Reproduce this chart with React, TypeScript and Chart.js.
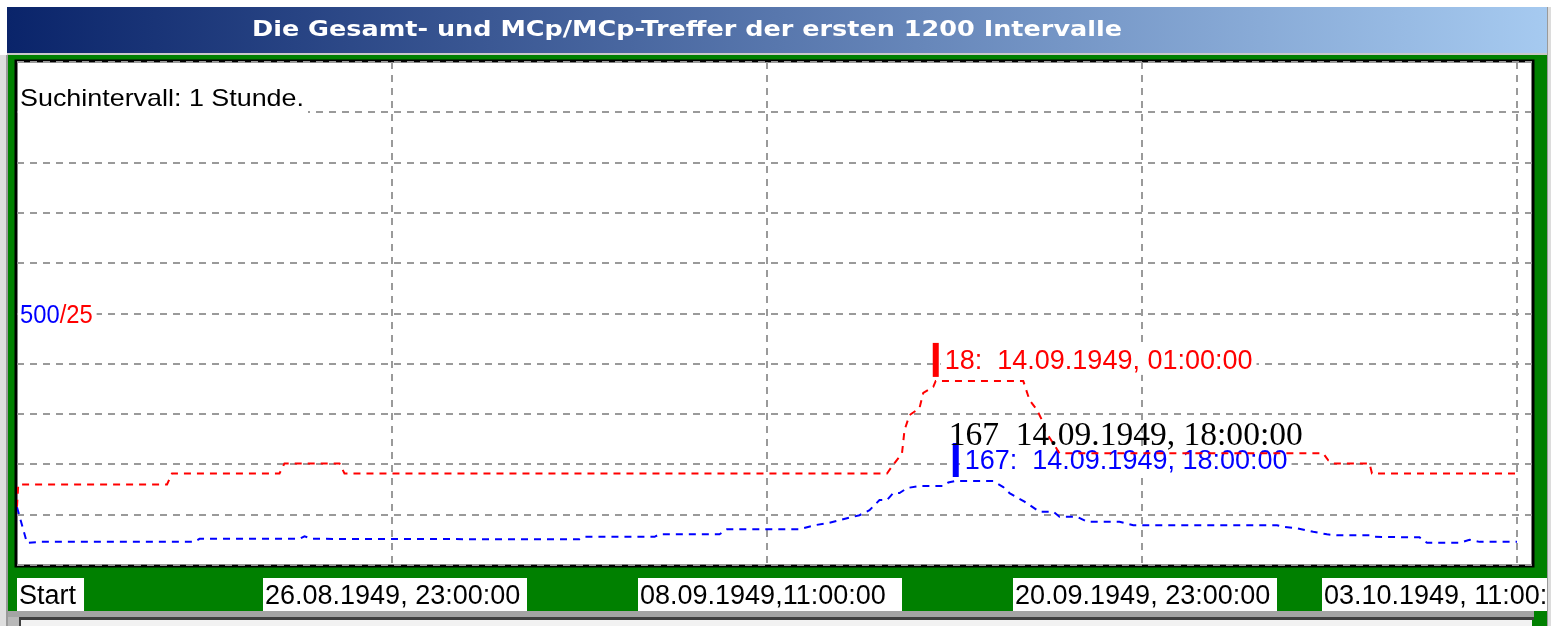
import React, { useEffect, useRef } from "react";
import { Chart, registerables } from "chart.js";

Chart.register(...registerables);

// ---------- texts ----------
const titleText = "Die Gesamt- und MCp/MCp-Treffer der ersten 1200 Intervalle";
const infoText = "Suchintervall: 1 Stunde.";
const blueAxisLabel = "500";
const redAxisLabel = "/25";
const axisLabelValue = 500;
const redPeakLabel = "18:  14.09.1949, 01:00:00";
const bluePeakLabel = "167:  14.09.1949, 18:00:00";
const overlayLabel = "167  14.09.1949, 18:00:00";

// ---------- x axis (hours since start) ----------
const xTickHours = [0, 300, 600, 900, 1200];
const xTickLabels = [
  "Start",
  "26.08.1949, 23:00:00",
  "08.09.1949,11:00:00",
  "20.09.1949, 23:00:00",
  "03.10.1949, 11:00:00",
];

// ---------- blue series (Gesamt-Treffer, left scale 0..1000) ----------
const blueHours = [0, 8, 18, 142, 146, 226, 230, 236, 450, 454, 510, 514, 562, 568, 626, 638, 650, 664, 674, 682, 690, 696, 701, 706, 712, 722, 741, 745, 751, 781, 789, 794, 806, 818, 829, 834, 848, 856, 882, 893, 1008, 1013, 1024, 1037, 1048, 1056, 1082, 1085, 1122, 1128, 1154, 1162, 1170, 1200];
const blueValues = [115, 44, 46, 46, 52, 52, 57, 52, 51, 56, 56, 61, 61, 71, 71, 79, 84, 93, 99, 109, 129, 129, 143, 143, 153, 157, 157, 164, 167, 167, 155, 143, 126, 106, 106, 96, 96, 86, 86, 79, 79, 76, 73, 66, 61, 59, 59, 56, 55, 44, 44, 50, 46, 46];

// ---------- red series (MCp/MCp-Treffer, right scale 0..50) ----------
const redHours = [0, 1, 120, 124, 210, 214, 258, 262, 696, 700, 708, 710, 714, 722, 725, 733, 735, 805, 810, 816, 820, 822, 829, 834, 1045, 1049, 1053, 1082, 1084, 1200];
const redValues = [5.8, 8, 8, 9.1, 9.1, 10.1, 10.1, 9.1, 9.1, 9.8, 11.1, 13.4, 14.9, 15.6, 17.1, 17.7, 18.3, 18.3, 16.4, 15.4, 14.4, 13.4, 12.1, 11.1, 11.1, 10.4, 10.1, 10.1, 9.1, 9.1];

const W = 1551;
const H = 626;
const SANS = "'Liberation Sans', Arial, sans-serif";
const GRID = "#9a9a9a";

function drawText(
  ctx: CanvasRenderingContext2D,
  text: string,
  x: number,
  y: number,
  font: string,
  color: string,
  align: CanvasTextAlign = "left",
  targetWidth?: number
): number {
  ctx.save();
  ctx.font = font;
  ctx.fillStyle = color;
  ctx.textBaseline = "alphabetic";
  ctx.textAlign = align;
  const w = ctx.measureText(text).width;
  const sx = targetWidth ? targetWidth / w : 1;
  ctx.translate(x, y);
  ctx.scale(sx, 1);
  ctx.fillText(text, 0, 0);
  ctx.restore();
  return w * sx;
}

function measure(ctx: CanvasRenderingContext2D, text: string, font: string): number {
  ctx.save();
  ctx.font = font;
  const w = ctx.measureText(text).width;
  ctx.restore();
  return w;
}

function peakIndex(values: number[]): number {
  let idx = 0;
  for (let i = 1; i < values.length; i++) if (values[i] > values[idx]) idx = i;
  return idx;
}

const peakInfo: Record<string, { hours: number[]; values: number[]; label: string; color: string; axis: string }> = {
  red: { hours: redHours, values: redValues, label: redPeakLabel, color: "#ff0000", axis: "y2" },
  blue: { hours: blueHours, values: blueValues, label: bluePeakLabel, color: "#0000ff", axis: "y" },
};

function peakPixel(chart: any, key: string) {
  const info = peakInfo[key];
  const i = peakIndex(info.values);
  return {
    px: chart.scales.x.getPixelForValue(info.hours[i]),
    py: chart.scales[info.axis].getPixelForValue(info.values[i]),
  };
}

const framePlugin: any = {
  id: "frame",
  beforeDraw(chart: any) {
    const ctx: CanvasRenderingContext2D = chart.ctx;
    const ca = chart.chartArea;
    ctx.save();
    ctx.fillStyle = "#ffffff";
    ctx.fillRect(0, 0, W, H);
    // window edges
    ctx.fillStyle = "#dedede";
    ctx.fillRect(0, 55, 7, H - 55);
    ctx.fillStyle = "#9a9a9a";
    ctx.fillRect(6, 55, 2, H - 55);
    // title bar
    const g = ctx.createLinearGradient(7, 0, 1547, 0);
    g.addColorStop(0, "#0a246a");
    g.addColorStop(1, "#a6caf0");
    ctx.fillStyle = g;
    ctx.fillRect(7, 7, 1540, 46);
    ctx.fillStyle = "#c8c8c8";
    ctx.fillRect(7, 53, 1540, 2);
    // right strip
    ctx.fillStyle = "#dcdcdc";
    ctx.fillRect(1547, 7, 4, H - 7);
    ctx.fillStyle = "#9a9a9a";
    ctx.fillRect(1547, 7, 1, H - 7);
    // green frame
    ctx.fillStyle = "#008000";
    ctx.fillRect(8, 55, 1539, H - 55);
    // bottom panel
    ctx.fillStyle = "#a4a4a4";
    ctx.fillRect(8, 611, 1526, 6);
    ctx.fillStyle = "#b8b8b8";
    ctx.fillRect(8, 617, 11, H - 617);
    ctx.fillStyle = "#404040";
    ctx.fillRect(19, 617, 1515, 3);
    ctx.fillRect(19, 617, 2, H - 617);
    ctx.fillStyle = "#f2f2f2";
    ctx.fillRect(21, 620, 1511, H - 620);
    // title
    drawText(ctx, titleText, 687, 36, "bold 22px 'DejaVu Sans', sans-serif", "#ffffff", "center", 870);
    // plot area
    ctx.fillStyle = "#ffffff";
    ctx.fillRect(ca.left, ca.top, ca.right - ca.left, ca.bottom - ca.top);
    ctx.strokeStyle = "#000000";
    ctx.lineWidth = 3;
    ctx.strokeRect(ca.left - 1, ca.top - 1, ca.right - ca.left + 2, ca.bottom - ca.top + 2);
    ctx.restore();
  },
  beforeDatasetsDraw(chart: any) {
    const ctx: CanvasRenderingContext2D = chart.ctx;
    const ca = chart.chartArea;
    // info text with backdrop
    const infoFont = `24px ${SANS}`;
    const infoW = 284;
    const infoBase = ca.top + 44;
    ctx.save();
    ctx.fillStyle = "#ffffff";
    ctx.fillRect(ca.left + 1, infoBase - 22, infoW + 6, 32);
    ctx.restore();
    drawText(ctx, infoText, ca.left + 3, infoBase, infoFont, "#000000", "left", infoW);
    // 500/25 axis label
    const y500 = chart.scales.y.getPixelForValue(axisLabelValue);
    const axFont = `25px ${SANS}`;
    const w1 = measure(ctx, blueAxisLabel, axFont) * 0.95;
    const w2 = measure(ctx, redAxisLabel, axFont) * 0.95;
    ctx.save();
    ctx.fillStyle = "#ffffff";
    ctx.fillRect(ca.left + 1, y500 - 12, w1 + w2 + 6, 24);
    ctx.restore();
    drawText(ctx, blueAxisLabel, ca.left + 3, y500 + 9, axFont, "#0000ff", "left", w1);
    drawText(ctx, redAxisLabel, ca.left + 3 + w1, y500 + 9, axFont, "#ff0000", "left", w2);
  },
  afterDatasetDraw(chart: any, args: any) {
    const key = chart.data.datasets[args.index].label as string;
    const info = peakInfo[key];
    if (!info) return;
    const ctx: CanvasRenderingContext2D = chart.ctx;
    const { px, py } = peakPixel(chart, key);
    const font = `27px ${SANS}`;
    const tw = measure(ctx, info.label, font);
    const tx = px + 9;
    const base = py - 12;
    ctx.save();
    ctx.fillStyle = "#ffffff";
    ctx.fillRect(px + 5, base - 21, tw + 8, 27);
    ctx.fillStyle = info.color;
    ctx.fillRect(px - 3, py - 38, 6, 34);
    ctx.restore();
    drawText(ctx, info.label, tx, base, font, info.color, "left");
  },
  afterDraw(chart: any) {
    const ctx: CanvasRenderingContext2D = chart.ctx;
    const ca = chart.chartArea;
    const xs = chart.scales.x;
    // overlay serif text
    const { px, py } = peakPixel(chart, "blue");
    drawText(ctx, overlayLabel, px - 7, py - 36, "33px 'Liberation Serif', 'Times New Roman', serif", "#000000", "left", 354);
    // x tick labels in white boxes
    const font = `27px ${SANS}`;
    const boxTop = ca.bottom + 13;
    const boxH = 33;
    const base = ca.bottom + 39;
    ctx.save();
    ctx.beginPath();
    ctx.rect(0, 0, 1547, H);
    ctx.clip();
    const ticks = xs.ticks;
    ticks.forEach((t: any, i: number) => {
      const label = xTickLabels[xTickHours.indexOf(t.value)];
      if (label === undefined) return;
      const p = xs.getPixelForValue(t.value);
      const tw = measure(ctx, label, font);
      let left: number;
      let bw = 264;
      if (i === 0) {
        left = ca.left;
        bw = tw + 10;
      } else if (i === ticks.length - 1) {
        left = p - 195;
      } else {
        left = p - 129;
      }
      ctx.fillStyle = "#ffffff";
      ctx.fillRect(left, boxTop, bw, boxH);
      drawText(ctx, label, left + 2, base, font, "#000000", "left");
    });
    ctx.restore();
  },
};

export default function App() {
  const ref = useRef<HTMLCanvasElement | null>(null);
  useEffect(() => {
    if (!ref.current) return;
    const chart = new Chart(ref.current, {
      type: "line",
      data: {
        datasets: [
          {
            label: "red",
            data: redHours.map((h, i) => ({ x: h, y: redValues[i] })),
            yAxisID: "y2",
            borderColor: "#ff0000",
            borderWidth: 2,
            borderDash: [7, 6],
            pointRadius: 0,
            tension: 0,
            fill: false,
          },
          {
            label: "blue",
            data: blueHours.map((h, i) => ({ x: h, y: blueValues[i] })),
            yAxisID: "y",
            borderColor: "#0000ff",
            borderWidth: 2,
            borderDash: [7, 6],
            pointRadius: 0,
            tension: 0,
            fill: false,
          },
        ],
      },
      options: {
        responsive: false,
        animation: false,
        devicePixelRatio: 1,
        layout: { padding: { left: 17, top: 62, right: 19, bottom: 61 } },
        plugins: {
          legend: { display: false },
          tooltip: { enabled: false },
          title: { display: false },
        },
        events: [],
        scales: {
          x: {
            type: "linear",
            min: 0,
            max: 1212,
            afterBuildTicks: (s: any) => {
              s.ticks = xTickHours.map((v) => ({ value: v }));
            },
            ticks: { display: false },
            grid: {
              drawTicks: false,
              lineWidth: 2,
              color: (c: any) => (c.tick && c.tick.value === 0 ? "rgba(0,0,0,0)" : GRID),
            },
            border: { display: false, dash: [7, 6] },
          },
          y: {
            type: "linear",
            min: 0,
            max: 1000,
            ticks: { display: false, stepSize: 100 },
            grid: { drawTicks: false, lineWidth: 2, color: GRID },
            border: { display: false, dash: [7, 6] },
          },
          y2: {
            type: "linear",
            min: 0,
            max: 50,
            display: false,
          },
        },
      } as any,
      plugins: [framePlugin],
    });
    return () => chart.destroy();
  }, []);
  return (
    <div style={{ position: "absolute", left: 0, top: 0, width: W, height: H }}>
      <canvas ref={ref} width={W} height={H} style={{ display: "block", width: W, height: H }} />
    </div>
  );
}
